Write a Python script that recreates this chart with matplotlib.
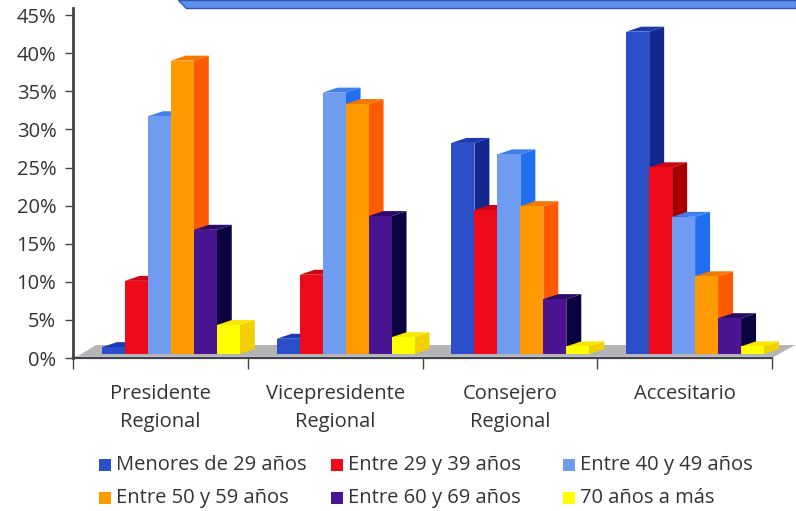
import matplotlib
matplotlib.use('Agg')
import matplotlib.pyplot as plt
from matplotlib.patches import Polygon, Rectangle

plt.rcParams['font.family'] = ['Open Sans', 'DejaVu Sans']

categories = ['Presidente\nRegional', 'Vicepresidente\nRegional', 'Consejero\nRegional', 'Accesitario']
series_names = ['Menores de 29 años', 'Entre 29 y 39 años', 'Entre 40 y 49 años',
                'Entre 50 y 59 años', 'Entre 60 y 69 años', '70 años a más']
menores_29 = [0.9, 2.0, 27.7, 42.3]
entre_29_39 = [9.6, 10.4, 18.9, 24.5]
entre_40_49 = [31.2, 34.3, 26.2, 18.0]
entre_50_59 = [38.5, 32.8, 19.4, 10.2]
entre_60_69 = [16.3, 18.1, 7.2, 4.7]
mas_70 = [3.8, 2.2, 1.0, 1.0]
series = [menores_29, entre_29_39, entre_40_49, entre_50_59, entre_60_69, mas_70]
y_ticks = [0, 5, 10, 15, 20, 25, 30, 35, 40, 45]

front_colors = ['#2a4fc9', '#ee0a1a', '#6f9cf0', '#ff9a00', '#4a1590', '#ffff00']
side_colors = ['#12278f', '#a80000', '#1f6ff0', '#ff5a00', '#0a0440', '#f2d000']
top_colors = ['#1c3ab0', '#c80810', '#3f7fee', '#f07a00', '#2a0c66', '#f8e800']

W, H = 796, 511
fig = plt.figure(figsize=(W / 100, H / 100), dpi=100)
ax = fig.add_axes([73 / W, 1 - 358 / H, 699 / W, 350 / H])
ax.set_xlim(0, 4)
ax.set_ylim(0, 350 / 7.62)

# sizes in data units (175 px per category, 7.62 px per percent)
bar_w = 23 / 175
depth_x = 15 / 175
depth_y = 5 / 7.62
base = 4 / 7.62
start = 29 / 175

# floor
ax.add_patch(Polygon([(0.01, 0), (4, 0), (4 + 23 / 175, 13 / 7.62), (23 / 175, 13 / 7.62)],
                     closed=True, facecolor='#b4b4b4', edgecolor='none', clip_on=False, zorder=1))
ax.plot([0, 4], [base * 0.3, base * 0.3], color='#c9cde8', lw=1.5, zorder=1.5, clip_on=False)

z = 2
for c in range(len(categories)):
    for s in range(len(series)):
        x0 = c + start + s * bar_w
        v = series[s][c]
        x1 = x0 + bar_w
        ax.add_patch(Polygon([(x1, base), (x1 + depth_x, base + depth_y),
                              (x1 + depth_x, base + v + depth_y), (x1, base + v)],
                             closed=True, facecolor=side_colors[s], edgecolor='none', zorder=z, clip_on=False))
        ax.add_patch(Polygon([(x0, base + v), (x1, base + v),
                              (x1 + depth_x, base + v + depth_y), (x0 + depth_x, base + v + depth_y)],
                             closed=True, facecolor=top_colors[s], edgecolor='none', zorder=z, clip_on=False))
        ax.bar(x0, v, bar_w, bottom=base, align='edge', color=front_colors[s], zorder=z + 0.5)
        z += 1

for name in ['top', 'right']:
    ax.spines[name].set_visible(False)
for name in ['left', 'bottom']:
    ax.spines[name].set_color('#444444')
    ax.spines[name].set_zorder(1.8)
ax.spines['left'].set_linewidth(2)
ax.spines['bottom'].set_linewidth(1.6)

ax.set_yticks(y_ticks)
ax.set_yticklabels([f'{t}%' for t in y_ticks], fontsize=14.5, color='#333333')
ax.tick_params(axis='y', length=6, width=1, color='#444444', pad=6)
ax.set_xticks([0, 1, 2, 3, 4])
ax.set_xticklabels([])
ax.tick_params(axis='x', length=8, width=1, color='#444444')

for i, cat in enumerate(categories):
    ax.text(i + 0.5, -26 / 7.62, cat, ha='center', va='top', fontsize=14.5,
            color='#333333', linespacing=1.55)

# banner cut off at the top of the page
fig.add_artist(Polygon([(178 / W, 1), (796 / W, 1), (796 / W, 1 - 8 / H), (186 / W, 1 - 8 / H)],
                       closed=True, transform=fig.transFigure, facecolor='#5f8ff0',
                       edgecolor='#2f55b0', lw=1))

# legend
leg_x = [99, 331, 563]
leg_y = [465, 498]
for s, name in enumerate(series_names):
    x = leg_x[s % 3]
    y = leg_y[s // 3]
    fig.add_artist(Rectangle((x / W, 1 - (y + 6) / H), 12 / W, 12 / H, transform=fig.transFigure,
                             facecolor=front_colors[s], edgecolor='none'))
    fig.text((x + 17) / W, 1 - y / H, name, ha='left', va='center', fontsize=14.5, color='#333333')

fig.savefig('out.png', dpi=100)
